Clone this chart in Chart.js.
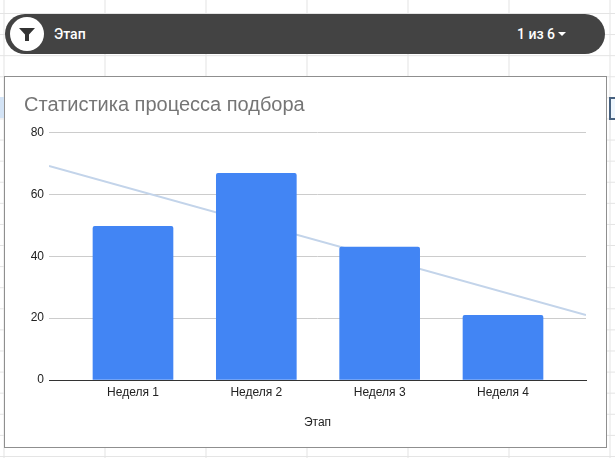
<!DOCTYPE html>
<html lang="ru"><head><meta charset="utf-8">
<script src="https://cdn.jsdelivr.net/npm/chart.js@4"></script>
<style>
html,body{margin:0;padding:0;width:615px;height:458px;overflow:hidden;background:#fff}
#sheet{position:absolute;left:0;top:0;width:615px;height:458px;
 background-image:linear-gradient(to right,#e3e3e3 1px,transparent 1px),linear-gradient(to bottom,#e3e3e3 1px,transparent 1px);
 background-size:101px 100%,100% 21.1px;background-position:3.5px 0,0 13px}
#selL{position:absolute;left:0;top:97px;width:4px;height:21px;background:#d3e3f5}
#selR{position:absolute;left:609px;top:97px;width:8px;height:19px;border:2px solid #47617f;background:#eef6fd}
#pill{position:absolute;left:5px;top:14px;width:600px;height:40px;border-radius:20px;background:#434343;color:#fff;font-family:Roboto,sans-serif}
#circle{position:absolute;left:5px;top:3px;width:34px;height:34px;border-radius:50%;background:#fff}
#circle svg{position:absolute;left:8px;top:8px}
#lab{position:absolute;left:49px;top:0;line-height:40px;font-size:14px;font-weight:500}
#cnt{position:absolute;left:512px;top:0;line-height:40px;font-size:14px;font-weight:500}
#car{position:absolute;left:553px;top:18px;width:0;height:0;border-left:4px solid transparent;border-right:4px solid transparent;border-top:4px solid #fff}
#box{position:absolute;left:4px;top:76px;width:601px;height:370px;border:1px solid #8f8f8f;background:#fff}
canvas{display:block}
</style></head><body>
<div id="sheet"></div><div id="selL"></div><div id="selR"></div>
<div id="pill"><div id="circle"><svg width="18" height="18" viewBox="0 0 18 18"><path d="M1 3h16L11 9.5V16H7V9.5z" fill="#333"/></svg></div><div id="lab">Этап</div><div id="cnt">1 из 6</div><div id="car"></div></div>
<div id="box"><canvas id="c" width="600" height="369"></canvas></div>
<script>
const chartTitle = 'Статистика процесса подбора';
const axisTitle = 'Этап';
const categories = ['Неделя 1','Неделя 2','Неделя 3','Неделя 4'];
const positions = [1,2,3,4];
const values = [49.7,66.8,43,20.9];
const trendX = [0.319,4.673];
const trendY = [69.2,21];
const yTicks = [0,20,40,60,80];

new Chart(document.getElementById('c'),{
  data:{datasets:[
    {type:'bar',order:1,data:positions.map((x,i)=>({x,y:values[i]})),backgroundColor:'#4285f4',barThickness:80,
     borderRadius:{topLeft:2,topRight:2,bottomLeft:0,bottomRight:0},borderSkipped:'bottom'},
    {type:'line',order:2,data:trendX.map((x,i)=>({x,y:trendY[i]})),borderColor:'#c3d4ea',borderWidth:2,pointRadius:0,tension:0}
  ]},
  options:{
    responsive:false,animation:false,
    layout:{padding:{left:19,right:19,top:0,bottom:0}},
    plugins:{legend:{display:false},tooltip:{enabled:false},
      title:{display:true,text:chartTitle,align:'start',color:'#757575',
        font:{family:'"Liberation Sans", Arial, sans-serif',size:20,weight:'normal'},padding:{top:16,bottom:15.5}}},
    scales:{
      x:{type:'linear',offset:false,min:trendX[0],max:trendX[1],
        afterBuildTicks(s){s.ticks=positions.map(value=>({value}));},
        afterFit(s){s.height=66;},
        grid:{display:true,offset:false,drawOnChartArea:false,drawTicks:false},border:{display:true,color:'#333',width:1},
        ticks:{maxRotation:0,autoSkip:false,padding:5,color:'#222',font:{family:'"Liberation Sans", Arial, sans-serif',size:12},
          callback:v=>categories[v-1]},
        title:{display:true,text:axisTitle,color:'#222',font:{family:'"Liberation Sans", Arial, sans-serif',size:12},padding:{top:0,bottom:16}}},
      y:{min:0,max:80,
        afterBuildTicks(s){s.ticks=yTicks.map(value=>({value}));},
        afterFit(s){s.width=25;},
        grid:{color:'#cccccc',drawTicks:false},border:{display:false},
        ticks:{padding:5,color:'#222',font:{family:'"Liberation Sans", Arial, sans-serif',size:12}}}
    }
  }
});
</script>
</body></html>
